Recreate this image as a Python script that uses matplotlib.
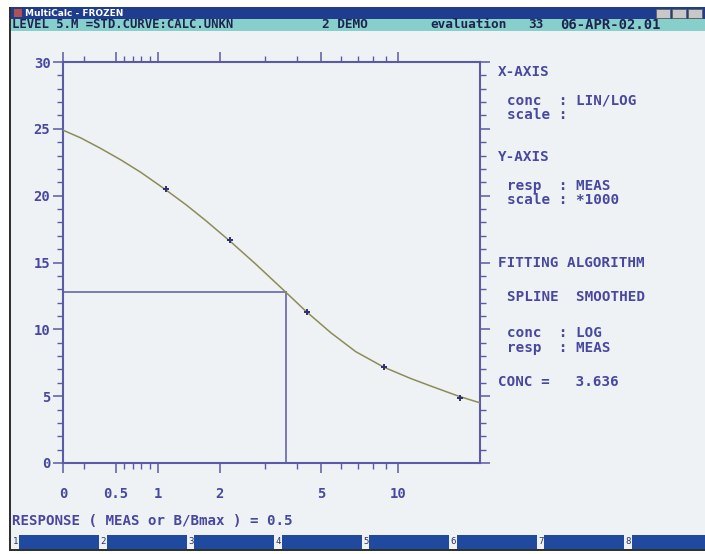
import numpy as np
import matplotlib
matplotlib.use("Agg")
import matplotlib.pyplot as plt
from matplotlib.patches import Rectangle

# ---------------- data ----------------
curve_conc = [0.0, 0.086, 0.31, 0.56, 0.80, 1.08, 1.37, 1.71, 2.21, 2.77, 3.63,
              4.35, 5.45, 6.83, 8.8, 11.2, 13.45, 17.3, 21.0]
curve_resp = [24.9, 24.31, 23.53, 22.67, 21.73, 20.49, 19.32, 18.13, 16.54, 14.87, 12.78,
              11.36, 9.75, 8.33, 7.17, 6.33, 5.76, 5.00, 4.50]
std_conc = [1.1, 2.2, 4.4, 8.8, 17.6]
std_resp = [20.5, 16.7, 11.3, 7.2, 4.9]
unk_conc = 3.636
unk_resp = 12.8
x_tick_vals = [0, 0.5, 1, 2, 5, 10]
x_tick_labels = ["0", "0.5", "1", "2", "5", "10"]
x_minor_vals = [0.1, 0.6, 0.7, 0.8, 0.9, 3, 4, 6, 7, 8, 9]
y_tick_vals = [0, 5, 10, 15, 20, 25, 30]

# ------------- LIN/LOG axis transform -------------
def fwd(x):
    x = np.asarray(x, dtype=float)
    xc = np.clip(x, 1e-9, None)
    out = np.where(x < 0.1, 0 + x / 0.1 * 21,
          np.where(x < 0.5, 21 + (x - 0.1) / 0.4 * 32,
          np.where(x < 1.0, 53 + (x - 0.5) / 0.5 * 42,
          np.where(x < 2.0, 95 + 62 * np.log10(xc) / np.log10(2),
                   157 + 255 * np.log10(xc / 2.0)))))
    return out

def inv(p):
    p = np.asarray(p, dtype=float)
    out = np.where(p < 21, p / 21 * 0.1,
          np.where(p < 53, 0.1 + (p - 21) / 32 * 0.4,
          np.where(p < 95, 0.5 + (p - 53) / 42 * 0.5,
          np.where(p < 157, 10 ** ((p - 95) / 62 * np.log10(2)),
                   2.0 * 10 ** ((p - 157) / 255)))))
    return out

W, H = 705, 554
fig = plt.figure(figsize=(W / 100, H / 100), dpi=100)
fig.patch.set_facecolor("white")

def fx(px):
    return px / W

def fy(py):
    return 1 - py / H

def rect(x0, y0, x1, y1, **kw):
    fig.patches.append(Rectangle((fx(x0), fy(y1)), fx(x1) - fx(x0), fy(y0) - fy(y1),
                                 transform=fig.transFigure, **kw))

BG = "#eef2f4"
BLUE = "#4848a0"
MONO = "DejaVu Sans Mono"

# window chrome
rect(10, 7, 705, 551, facecolor=BG, edgecolor="none", zorder=-2)
rect(9, 7, 11, 551, facecolor="#303030", edgecolor="none", zorder=-1)
rect(9, 549, 705, 551, facecolor="#303030", edgecolor="none", zorder=-1)
rect(11, 7, 705, 19, facecolor="#1f3c8e", edgecolor="none", zorder=-1)
rect(11, 19, 705, 31, facecolor="#86cfcb", edgecolor="none", zorder=-1)
rect(14, 9, 22, 17, facecolor="#b05050", edgecolor="none", zorder=-1)
for bx in (656, 672, 688):
    rect(bx, 9, bx + 14, 18, facecolor="#c8c8c8", edgecolor="#606060", lw=0.6, zorder=-1)
fig.text(fx(25), fy(13), "MultiCalc - FROZEN", color="white", fontsize=6.5,
         fontweight="bold", va="center", ha="left")
hdr = dict(family=MONO, fontsize=9.2, fontweight="bold", color="#1c2450",
           va="center", ha="left")
fig.text(fx(12), fy(25), "LEVEL 5.M =STD.CURVE:CALC.UNKN", **dict(hdr, fontsize=8.8))
fig.text(fx(322), fy(25), "2 DEMO", **hdr)
fig.text(fx(430), fy(25), "evaluation", **hdr)
fig.text(fx(528), fy(25), "33", **hdr)
fig.text(fx(560), fy(25), "06-APR-02.01", **dict(hdr, fontsize=10))

# function key bar
for i in range(8):
    x0 = 13 + i * 87.5
    fig.text(fx(x0), fy(542), str(i + 1), family=MONO, fontsize=6.5, color="#303060",
             va="center", ha="left")
    rect(x0 + 6, 535, x0 + 86, 549, facecolor="#1f4aa0", edgecolor="none", zorder=-1)

fig.text(fx(12), fy(521), "RESPONSE ( MEAS or B/Bmax ) = 0.5", family=MONO, fontsize=10.2,
         fontweight="bold", color=BLUE, va="center", ha="left")

# right panel text
panel = [
    (498, 72, "X-AXIS"),
    (507, 101, "conc  : LIN/LOG"),
    (507, 115, "scale :"),
    (498, 157, "Y-AXIS"),
    (507, 186, "resp  : MEAS"),
    (507, 200, "scale : *1000"),
    (498, 263, "FITTING ALGORITHM"),
    (507, 297, "SPLINE  SMOOTHED"),
    (507, 333, "conc  : LOG"),
    (507, 348, "resp  : MEAS"),
    (498, 382, "CONC =   3.636"),
]
for px, py, s in panel:
    fig.text(fx(px), fy(py), s, family=MONO, fontsize=10.3, fontweight="bold",
             color=BLUE, va="center", ha="left")

# ---------------- plot ----------------
ax = fig.add_axes([fx(63), fy(463), fx(480) - fx(63), fy(62) - fy(463)])
ax.set_zorder(5)
ax.set_facecolor("none")
ax.set_xscale("function", functions=(fwd, inv))
ax.set_xlim(0, 21.0)
ax.set_ylim(0, 30)

ax.plot(curve_conc, curve_resp, color="#8c8c58", lw=1.1, zorder=3)
ax.plot(std_conc, std_resp, linestyle="none", marker="+", markersize=5, mew=1.4,
        color="#303070", zorder=4)
ax.plot([0, unk_conc], [unk_resp, unk_resp], color="#7070b0", lw=1.3, zorder=2)
ax.plot([unk_conc, unk_conc], [0, unk_resp], color="#7070b0", lw=1.3, zorder=2)

for s in ax.spines.values():
    s.set_color("#5a5aa6")
    s.set_linewidth(1.5)

ax.set_xticks(x_tick_vals)
ax.set_xticklabels(x_tick_labels)
ax.set_xticks(x_minor_vals, minor=True)
ax.set_yticks(y_tick_vals)
ax.set_yticks(np.arange(0, 31, 1), minor=True)
ax.tick_params(axis="both", which="major", direction="out", length=7, width=1.1,
               color="#5a5aa6", top=True, right=True, labelcolor=BLUE, labelsize=10)
ax.tick_params(axis="both", which="minor", direction="out", length=4, width=1.0,
               color="#5a5aa6", top=True, right=True)
ax.tick_params(axis="x", which="major", pad=10)
ax.tick_params(axis="y", which="major", pad=2)
for lab in ax.get_xticklabels() + ax.get_yticklabels():
    lab.set_family(MONO)
    lab.set_fontweight("bold")

fig.savefig("out.png", dpi=100, facecolor=fig.get_facecolor())
